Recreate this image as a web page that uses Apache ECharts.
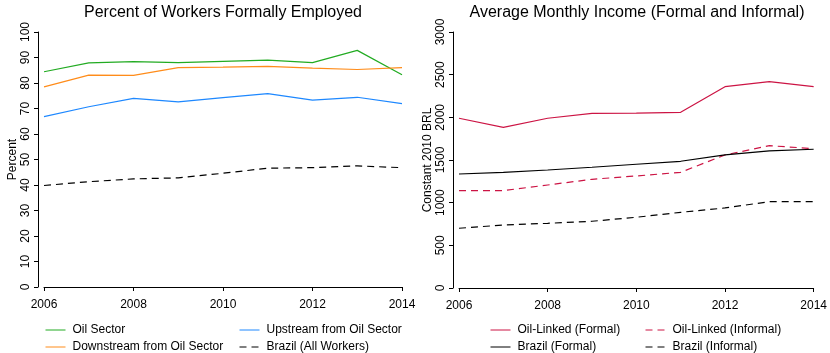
<!DOCTYPE html>
<html>
<head>
<meta charset="utf-8">
<script src="https://cdn.jsdelivr.net/npm/echarts@6/dist/echarts.min.js"></script>
<style>
  html, body { margin: 0; padding: 0; background: #fff; }
  #chart { width: 830px; height: 353px; }
</style>
</head>
<body>
<div id="chart"></div>
<script>
// years on the x axis
const years = [2006, 2007, 2008, 2009, 2010, 2011, 2012, 2013, 2014];

// left panel: percent formally employed
const oilSector = [84.4, 87.9, 88.4, 88.0, 88.5, 89.0, 88.0, 92.8, 83.2];
const downstream = [78.5, 83.1, 83.0, 86.0, 86.2, 86.5, 85.8, 85.3, 86.0];
const upstream = [66.8, 70.7, 74.0, 72.6, 74.3, 75.8, 73.3, 74.4, 71.9];
const brazilAll = [39.8, 41.3, 42.4, 42.8, 44.6, 46.6, 46.8, 47.5, 46.8];

// right panel: average monthly income, constant 2010 BRL
const oilFormal = [1989, 1883, 1989, 2047, 2050, 2059, 2359, 2418, 2359];
const oilInformal = [1140, 1142, 1207, 1274, 1313, 1356, 1559, 1668, 1633];
const brFormal = [1336, 1356, 1383, 1415, 1450, 1485, 1559, 1606, 1626];
const brInformal = [700, 738, 758, 782, 829, 887, 938, 1012, 1012];

const FONT = "'Liberation Sans', Arial, sans-serif";
const green = "#22ab22", orange = "#ff8c1a", blue = "#1e88ff", crimson = "#cc1444";

function pairs(vals) {
  return years.map((y, i) => [y, vals[i]]);
}

function xAxis(gi) {
  return {
    gridIndex: gi, type: "value", min: 2006, max: 2014, interval: 2,
    offset: 8,
    axisLine: { show: true, lineStyle: { color: "#000", width: 1 } },
    axisTick: { show: true, length: 4, lineStyle: { color: "#000" } },
    axisLabel: { color: "#000", fontSize: 12, fontFamily: FONT, margin: 4, formatter: v => String(v) },
    splitLine: { show: false }
  };
}

function yAxis(gi, max, step, name) {
  return {
    gridIndex: gi, type: "value", min: 0, max: max, interval: step,
    offset: 6,
    name: name, nameLocation: "middle", nameGap: 18,
    nameTextStyle: { color: "#000", fontSize: 12, fontFamily: FONT },
    axisLine: { show: true, lineStyle: { color: "#000", width: 1 } },
    axisTick: { show: true, length: 4, lineStyle: { color: "#000" } },
    axisLabel: { color: "#000", fontSize: 12, fontFamily: FONT, rotate: 90, margin: 6, formatter: v => String(v) },
    splitLine: { show: false }
  };
}

function line(name, data, color, dashed, gi) {
  return {
    name: name, type: "line", data: pairs(data),
    xAxisIndex: gi, yAxisIndex: gi,
    symbol: "none", animation: false,
    lineStyle: { color: color, width: 1.2, type: dashed ? [7, 5] : "solid" },
    itemStyle: { color: color }
  };
}

// one legend box per entry, placed like the original two-column legend
function legend(name, left, row) {
  return {
    data: [name], left: left, top: row === 0 ? 323 : 340,
    itemWidth: 20, itemHeight: 14,
    itemStyle: { opacity: 0 },
    lineStyle: { width: 1 },
    textStyle: { color: "#000", fontSize: 12, fontFamily: FONT, lineHeight: 14, padding: [0, 0, 0, 2] },
    selectedMode: false, padding: 0
  };
}

const chart = echarts.init(document.getElementById("chart"));
chart.setOption({
  backgroundColor: "#fff",
  animation: false,
  title: [
    { text: "Percent of Workers Formally Employed", left: 223, top: 5, textAlign: "center", padding: 0,
      textStyle: { fontSize: 16, fontWeight: "normal", color: "#000", fontFamily: FONT } },
    { text: "Average Monthly Income (Formal and Informal)", left: 637, top: 5, textAlign: "center", padding: 0,
      textStyle: { fontSize: 16, fontWeight: "normal", color: "#000", fontFamily: FONT } }
  ],
  grid: [
    { left: 44, top: 32, width: 358, height: 255 },
    { left: 459, top: 32, width: 357, height: 256 }
  ],
  xAxis: [xAxis(0), xAxis(1)],
  yAxis: [yAxis(0, 100, 10, "Percent"), yAxis(1, 3000, 500, "Constant 2010 BRL")],
  legend: [
    legend("Oil Sector", 45, 0),
    legend("Downstream from Oil Sector", 45, 1),
    legend("Upstream from Oil Sector", 239, 0),
    legend("Brazil (All Workers)", 239, 1),
    legend("Oil-Linked (Formal)", 490, 0),
    legend("Brazil (Formal)", 490, 1),
    legend("Oil-Linked (Informal)", 645, 0),
    legend("Brazil (Informal)", 645, 1)
  ],
  series: [
    line("Oil Sector", oilSector, green, false, 0),
    line("Downstream from Oil Sector", downstream, orange, false, 0),
    line("Upstream from Oil Sector", upstream, blue, false, 0),
    line("Brazil (All Workers)", brazilAll, "#000", true, 0),
    line("Oil-Linked (Formal)", oilFormal, crimson, false, 1),
    line("Oil-Linked (Informal)", oilInformal, crimson, true, 1),
    line("Brazil (Formal)", brFormal, "#000", false, 1),
    line("Brazil (Informal)", brInformal, "#000", true, 1)
  ]
});
</script>
</body>
</html>
